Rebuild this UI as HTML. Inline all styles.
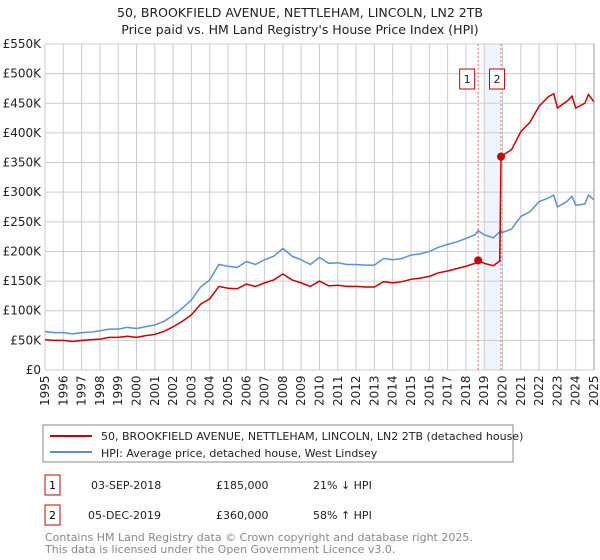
<!DOCTYPE html>
<html><head><meta charset="utf-8"><style>
body{margin:0;background:#fff;font-family:"Liberation Sans","DejaVu Sans",sans-serif;}
#wrap{position:relative;width:600px;height:560px;overflow:hidden;}
</style></head><body>
<div id="wrap">
<svg id="chart" width="600" height="560" xmlns="http://www.w3.org/2000/svg" font-family="DejaVu Sans, Liberation Sans, sans-serif">
<text x="300" y="17" text-anchor="middle" font-size="12.5" fill="#222">50, BROOKFIELD AVENUE, NETTLEHAM, LINCOLN, LN2 2TB</text>
<text x="300" y="34" text-anchor="middle" font-size="12.5" fill="#222">Price paid vs. HM Land Registry's House Price Index (HPI)</text>
<g id="grid"></g><g id="marks"></g><g id="axes"></g>
<rect x="43" y="425" width="470" height="37" fill="#fff" stroke="#888"/>
<line x1="50" y1="436" x2="92" y2="436" stroke="#cc0000" stroke-width="2"/>
<text x="101" y="440" font-size="11" fill="#222">50, BROOKFIELD AVENUE, NETTLEHAM, LINCOLN, LN2 2TB (detached house)</text>
<line x1="50" y1="452" x2="92" y2="452" stroke="#5b8fd6" stroke-width="2"/>
<text x="101" y="457" font-size="11" fill="#222">HPI: Average price, detached house, West Lindsey</text>
<g>
<rect x="45" y="475" width="15" height="20" fill="#fff" stroke="#cc0000"/><text x="52.5" y="489" text-anchor="middle" font-size="11">1</text>
<text x="91" y="489" font-size="11" fill="#222">03-SEP-2018</text><text x="216" y="489" font-size="11" fill="#222">£185,000</text><text x="313" y="489" font-size="11" fill="#222">21% ↓ HPI</text></g>
<g>
<rect x="45" y="505" width="15" height="20" fill="#fff" stroke="#cc0000"/><text x="52.5" y="519" text-anchor="middle" font-size="11">2</text>
<text x="88" y="519" font-size="11" fill="#222">05-DEC-2019</text><text x="216" y="519" font-size="11" fill="#222">£360,000</text><text x="313" y="519" font-size="11" fill="#222">58% ↑ HPI</text></g>
<text x="45" y="541" font-size="11" fill="#888">Contains HM Land Registry data © Crown copyright and database right 2025.</text>
<text x="45" y="553" font-size="11" fill="#888">This data is licensed under the Open Government Licence v3.0.</text>
</svg>
</div>
<script>
const yTicks = [0,50,100,150,200,250,300,350,400,450,500,550];
const yTickLabels = ["£0","£50K","£100K","£150K","£200K","£250K","£300K","£350K","£400K","£450K","£500K","£550K"];
const xYears = [1995,1996,1997,1998,1999,2000,2001,2002,2003,2004,2005,2006,2007,2008,2009,2010,2011,2012,2013,2014,2015,2016,2017,2018,2019,2020,2021,2022,2023,2024,2025];
const hpiDates = [1995,1995.5,1996,1996.5,1997,1997.5,1998,1998.5,1999,1999.5,2000,2000.5,2001,2001.5,2002,2002.5,2003,2003.5,2004,2004.5,2005,2005.5,2006,2006.5,2007,2007.5,2008,2008.5,2009,2009.5,2010,2010.5,2011,2011.5,2012,2012.5,2013,2013.5,2014,2014.5,2015,2015.5,2016,2016.5,2017,2017.5,2018,2018.5,2018.67,2019,2019.5,2019.92,2020,2020.5,2021,2021.5,2022,2022.5,2022.8,2023,2023.5,2023.8,2024,2024.5,2024.7,2025];
const hpiValues = [65,63,63,61,63,64,66,69,69,72,70,73,76,82,92,104,118,140,152,178,175,173,183,178,186,192,205,192,186,178,190,180,181,178,178,177,177,188,186,188,194,196,200,207,212,216,222,228,235,228,223,235,232,238,259,267,284,290,295,275,284,293,278,280,295,287];
const priceDates = [1995,1995.5,1996,1996.5,1997,1997.5,1998,1998.5,1999,1999.5,2000,2000.5,2001,2001.5,2002,2002.5,2003,2003.5,2004,2004.5,2005,2005.5,2006,2006.5,2007,2007.5,2008,2008.5,2009,2009.5,2010,2010.5,2011,2011.5,2012,2012.5,2013,2013.5,2014,2014.5,2015,2015.5,2016,2016.5,2017,2017.5,2018,2018.5,2018.67,2019,2019.5,2019.85,2019.92,2020,2020.5,2021,2021.5,2022,2022.5,2022.8,2023,2023.5,2023.8,2024,2024.5,2024.7,2025];
const priceValues = [51,50,50,48,50,51,52,55,55,57,55,58,60,65,73,82,93,111,120,141,138,137,145,141,147,152,162,152,147,141,150,142,143,141,141,140,140,149,147,149,153,155,158,164,167,171,175,180,185,180,176,184,360,362,372,402,418,445,461,466,442,453,462,442,450,465,452];
const saleDates = [2018.67,2019.92];
const salePrices = [185,360];
const saleLabels = ["1","2"];

const NS="http://www.w3.org/2000/svg";
const X0=45,X1=594,Y0=370,Y1=44;
const xs=d=>X0+(d-1995)/(2025-1995)*(X1-X0);
const ys=v=>Y0-v/550*(Y0-Y1);
function mk(tag,attrs,parent){const e=document.createElementNS(NS,tag);for(const k in attrs)e.setAttribute(k,attrs[k]);parent.appendChild(e);return e;}
const grid=document.getElementById('grid'),marks=document.getElementById('marks'),axes=document.getElementById('axes');
// shading between sales
const shade=mk('rect',{x:xs(2019),y:Y1,width:xs(saleDates[1])-xs(2019),height:Y0-Y1,fill:'#eef3fc'},grid);


yTicks.forEach((t,i)=>{
  const l=mk('line',{x1:X0,x2:X1,y1:ys(t),y2:ys(t),stroke:'#cccccc'},grid);
  
  
  const tx=mk('text',{x:X0-4,y:ys(t)+4,'text-anchor':'end','font-size':'12',fill:'#222'},axes);
  tx.textContent=yTickLabels[i];
  
  
});
xYears.forEach(y=>{
  const l=mk('line',{x1:xs(y),x2:xs(y),y1:Y1,y2:Y0,stroke:'#cccccc'},grid);
  
  
  const tx=mk('text',{transform:`translate(${xs(y)+4},${Y0+36}) rotate(-90)`,'font-size':'12',fill:'#222'},axes);
  tx.textContent=y;
  
  
});
saleDates.forEach((d,i)=>{
  const l=mk('line',{x1:xs(d),x2:xs(d),y1:Y1,y2:Y0,stroke:'#ee6666','stroke-dasharray':'2,2'},grid);
  
  
});
const hpiPath=mk('polyline',{points:hpiDates.map((d,i)=>xs(d)+','+ys(hpiValues[i])).join(' '),fill:'none',stroke:'#5b8fd6','stroke-width':'1.5'},marks);


const pPath=mk('polyline',{points:priceDates.map((d,i)=>xs(d)+','+ys(priceValues[i])).join(' '),fill:'none',stroke:'#cc0000','stroke-width':'1.5'},marks);


saleDates.forEach((d,i)=>{
  const c=mk('circle',{cx:xs(d),cy:ys(salePrices[i]),r:4,fill:'#cc0000'},marks);
  
  
  const bx=xs(d)-(i===0?11:4);
  const r=mk('rect',{x:bx-7.5,y:69,width:15,height:20,fill:'#fff',stroke:'#cc0000'},marks);
  
  
  const t=mk('text',{x:bx,y:83,'text-anchor':'middle','font-size':'11',fill:'#222'},marks);
  t.textContent=saleLabels[i];
  
  
});
const border=mk('line',{x1:X1,x2:X1,y1:Y1,y2:Y0,stroke:'#999'},axes);


</script>
</body></html>
